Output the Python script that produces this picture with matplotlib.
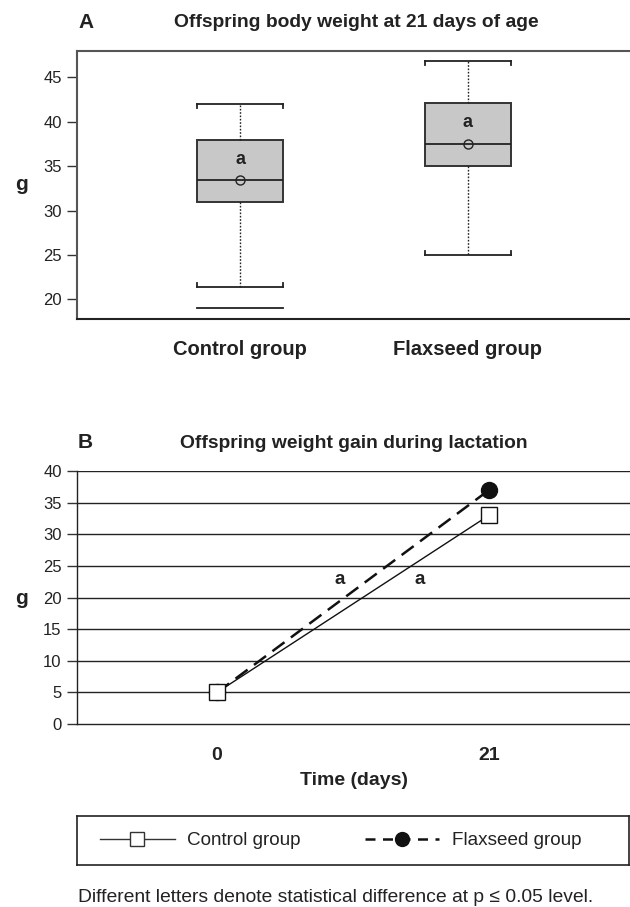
import numpy as np
import matplotlib
matplotlib.use("Agg")
import matplotlib.pyplot as plt
from matplotlib.lines import Line2D

plt.rcParams['font.family'] = ['Liberation Sans', 'DejaVu Sans']

# panel A - box summary
groups = ["Control group", "Flaxseed group"]
whis_lo = [21.4, 25.0]
q1 = [31.0, 35.0]
med = [33.5, 37.5]
q3 = [38.0, 42.1]
whis_hi = [42.0, 46.8]
means = [33.5, 37.5]
min_line = [19.0, None]
letter_a = ["a", "a"]
letter_a_y = [35.7, 39.9]

# panel B - weight gain
days = ["0", "21"]
control_w = [5, 33]
flax_w = [5, 37]
letter_b = ["a", "a"]
letter_b_x = [0.452, 0.746]
letter_b_y = [22.9, 22.9]

W, H = 630, 907
fig = plt.figure(figsize=(W / 100, H / 100), dpi=100)

def fx(px):
    return px / W

def fy(py):
    return 1 - py / H

# ---------- A ----------
axA = fig.add_axes([fx(77), fy(319), fx(553), fy(50.7) - fy(319)])
pos = [1, 2]
bw = 0.378
stats = []
for i in range(2):
    stats.append(dict(med=med[i], q1=q1[i], q3=q3[i], whislo=whis_lo[i],
                      whishi=whis_hi[i], mean=means[i], fliers=[]))
axA.bxp(stats, positions=pos, widths=bw, showmeans=True, patch_artist=True,
        capwidths=bw,
        boxprops=dict(facecolor='#c8c8c8', edgecolor='#333333', linewidth=1.4),
        medianprops=dict(color='#222222', linewidth=1.3),
        whiskerprops=dict(color='#222222', linewidth=1.0, linestyle=(0, (1.2, 1.2))),
        capprops=dict(color='#222222', linewidth=1.3),
        meanprops=dict(marker='o', markerfacecolor='none', markeredgecolor='#222222',
                       markersize=6.5, markeredgewidth=1.0))
# little end ticks on the caps, pointing toward the box
tk = 0.45
for i in range(2):
    for c, d in [(whis_hi[i], -tk), (whis_lo[i], tk)]:
        for xe in [pos[i] - bw / 2, pos[i] + bw / 2]:
            axA.plot([xe, xe], [c, c + d], color='#222222', lw=1.3)
    if min_line[i] is not None:
        axA.plot([pos[i] - bw / 2, pos[i] + bw / 2], [min_line[i]] * 2,
                 color='#222222', lw=1.3)
    axA.text(pos[i], letter_a_y[i], letter_a[i], ha='center', va='center',
             fontsize=13, fontweight='bold', color='#222222')

axA.set_xlim(0.284, 2.713)
axA.set_ylim(17.8, 48.0)
axA.set_yticks([20, 25, 30, 35, 40, 45])
axA.set_xticks(pos)
axA.set_xticklabels(groups, fontsize=14.5, fontweight='bold', color='#222222')
axA.tick_params(axis='x', length=0, pad=15)
axA.tick_params(axis='y', length=7, width=1, color='#333333', labelsize=12,
                labelcolor='#222222', pad=4)
for s in ['top', 'left']:
    axA.spines[s].set_color('#555555')
    axA.spines[s].set_linewidth(1.5)
axA.spines['bottom'].set_color('#222222')
axA.spines['bottom'].set_linewidth(1.5)
axA.spines['right'].set_visible(False)

fig.text(fx(78), fy(22.5), "A", fontsize=15, fontweight='bold', va='center', color='#222222')
fig.text(fx(356), fy(22.5), "Offspring body weight at 21 days of age", fontsize=13.9,
         fontweight='bold', ha='center', va='center', color='#222222')
fig.text(fx(21), fy(184), "g", fontsize=15, fontweight='bold', ha='center', va='center',
         color='#222222')

# ---------- B ----------
axB = fig.add_axes([fx(77), fy(724), fx(553), fy(471) - fy(724)])
xb = [0, 1]
for yv in range(5, 41, 5):
    axB.axhline(yv, color='#222222', lw=1.0, zorder=1)
axB.plot(xb, flax_w, color='#111111', lw=1.8, linestyle=(0, (6, 3.2)), marker='o',
         markersize=11.5, markerfacecolor='#111111', markeredgecolor='#111111', zorder=3,
         label="Flaxseed group")
axB.plot(xb, control_w, color='#111111', lw=1.0, marker='s', markersize=11.5,
         markerfacecolor='white', markeredgecolor='#111111', markeredgewidth=1.0, zorder=4,
         label="Control group")
for i in range(2):
    axB.text(letter_b_x[i], letter_b_y[i], letter_b[i], ha='center', va='center',
             fontsize=13.5, fontweight='bold', color='#222222')
axB.set_xlim(-0.515, 1.518)
axB.set_ylim(0, 40)
axB.set_yticks(range(0, 41, 5))
axB.set_xticks(xb)
axB.set_xticklabels(days, fontsize=14, fontweight='bold', color='#222222')
axB.tick_params(axis='x', length=0, pad=16.5)
axB.tick_params(axis='y', length=7, width=1, color='#333333', labelsize=12,
                labelcolor='#222222', pad=4)
axB.spines['right'].set_visible(False)
axB.spines['top'].set_visible(False)
for s in ['left', 'bottom']:
    axB.spines[s].set_color('#222222')
    axB.spines[s].set_linewidth(1.0)
axB.set_xlabel("Time (days)", fontsize=14, fontweight='bold', color='#222222', labelpad=6)

fig.text(fx(78), fy(443), "B", fontsize=15, fontweight='bold', va='center', color='#222222')
fig.text(fx(354), fy(443), "Offspring weight gain during lactation", fontsize=13.9,
         fontweight='bold', ha='center', va='center', color='#222222')
fig.text(fx(21), fy(598), "g", fontsize=15, fontweight='bold', ha='center', va='center',
         color='#222222')

# ---------- legend box ----------
axL = fig.add_axes([fx(77), fy(865), fx(552), fy(816) - fy(865)])
axL.set_xticks([])
axL.set_yticks([])
for s in axL.spines.values():
    s.set_color('#222222')
    s.set_linewidth(1.2)
h_ctrl = Line2D([], [], color='#333333', lw=1.0, marker='s', markersize=10,
                markerfacecolor='white', markeredgecolor='#333333')
h_flax = Line2D([], [], color='#111111', lw=1.8, linestyle=(0, (4, 3)), marker='o',
                markersize=10, markerfacecolor='#111111', markeredgecolor='#111111')
axL.legend([h_ctrl, h_flax], ["Control group", "Flaxseed group"], loc='center left',
           bbox_to_anchor=(0.042, 0.5), frameon=False, ncol=2, fontsize=13.6,
           handlelength=3.95, handletextpad=0.65, columnspacing=3.4,
           borderpad=0, borderaxespad=0, labelcolor='#222222')

fig.text(fx(78), fy(897), "Different letters denote statistical difference at p \u2264 0.05 level.",
         fontsize=13.9, va='center', color='#222222')

fig.savefig("out.png", dpi=100)
